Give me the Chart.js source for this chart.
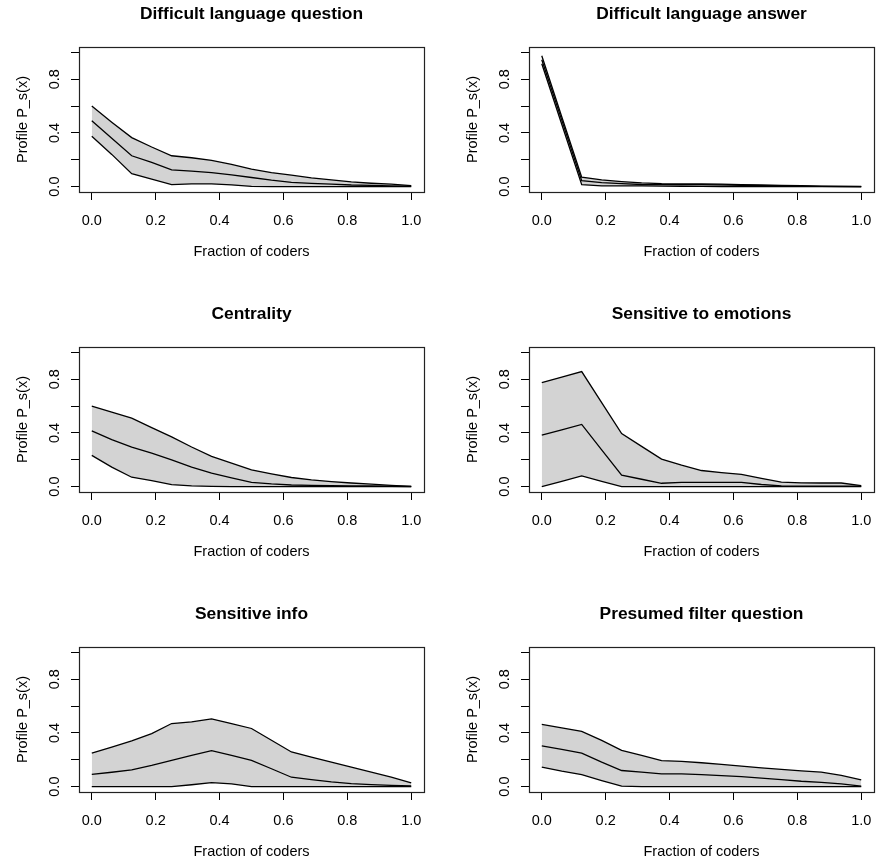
<!DOCTYPE html>
<html>
<head>
<meta charset="utf-8">
<script src="https://cdn.jsdelivr.net/npm/chart.js@4.4.1/dist/chart.umd.min.js"></script>
<style>
  body { margin: 0; width: 879px; height: 867px; overflow: hidden; background: #fff; position: relative; }
  .panel { position: absolute; width: 450px; height: 300px; }
</style>
</head>
<body>
<div class="panel" style="left:0;top:0"><canvas id="c0" width="450" height="300"></canvas></div>
<div class="panel" style="left:450px;top:0"><canvas id="c1" width="450" height="300"></canvas></div>
<div class="panel" style="left:0;top:300px"><canvas id="c2" width="450" height="300"></canvas></div>
<div class="panel" style="left:450px;top:300px"><canvas id="c3" width="450" height="300"></canvas></div>
<div class="panel" style="left:0;top:600px"><canvas id="c4" width="450" height="300"></canvas></div>
<div class="panel" style="left:450px;top:600px"><canvas id="c5" width="450" height="300"></canvas></div>
<script>
// fraction of coders (x positions)
var fractions = [0, 0.0625, 0.125, 0.1875, 0.25, 0.3125, 0.375, 0.4375, 0.5,
  0.5625, 0.625, 0.6875, 0.75, 0.8125, 0.875, 0.9375, 1];

var titles = ['Difficult language question', 'Difficult language answer', 'Centrality',
  'Sensitive to emotions', 'Sensitive info', 'Presumed filter question'];

var xTicks = [0, 0.2, 0.4, 0.6, 0.8, 1];
var xTickLabels = ['0.0', '0.2', '0.4', '0.6', '0.8', '1.0'];
var yTicks = [0, 0.2, 0.4, 0.6, 0.8, 1];
var yTickLabels = ['0.0', '', '0.4', '', '0.8', ''];

// Difficult language question
var dlqUpper = [0.60, 0.48, 0.365, 0.295, 0.23, 0.215, 0.195, 0.165, 0.13, 0.105, 0.085, 0.065, 0.05, 0.035, 0.025, 0.018, 0.008];
var dlqMid = [0.49, 0.36, 0.23, 0.18, 0.125, 0.115, 0.105, 0.088, 0.068, 0.048, 0.032, 0.024, 0.018, 0.012, 0.01, 0.006, 0.004];
var dlqLower = [0.375, 0.24, 0.097, 0.055, 0.015, 0.02, 0.02, 0.013, 0.002, 0, 0, 0, 0, 0, 0, 0, 0];

// Difficult language answer
var dlaUpper = [0.975, 0.52, 0.07, 0.05, 0.038, 0.028, 0.022, 0.02, 0.02, 0.018, 0.014, 0.012, 0.01, 0.008, 0.004, 0.002, 0.001];
var dlaMid = [0.945, 0.495, 0.045, 0.03, 0.022, 0.016, 0.015, 0.015, 0.015, 0.013, 0.01, 0.008, 0.006, 0.004, 0.002, 0.001, 0];
var dlaLower = [0.915, 0.465, 0.015, 0.006, 0.005, 0.005, 0.004, 0.003, 0.002, 0.001, 0, 0, 0, 0, 0, 0, 0];

// Centrality
var cenUpper = [0.60, 0.555, 0.51, 0.44, 0.37, 0.295, 0.225, 0.175, 0.125, 0.095, 0.068, 0.05, 0.038, 0.027, 0.018, 0.01, 0.002];
var cenMid = [0.415, 0.35, 0.295, 0.25, 0.20, 0.145, 0.10, 0.065, 0.032, 0.02, 0.012, 0.01, 0.008, 0.006, 0.005, 0.003, 0.001];
var cenLower = [0.233, 0.145, 0.07, 0.045, 0.015, 0.005, 0.002, 0, 0, 0, 0, 0, 0, 0, 0, 0, 0];

// Sensitive to emotions
var emoUpper = [0.775, 0.816, 0.857, 0.626, 0.395, 0.30, 0.205, 0.16, 0.12, 0.105, 0.092, 0.062, 0.033, 0.028, 0.027, 0.027, 0.007];
var emoMid = [0.383, 0.423, 0.463, 0.273, 0.085, 0.055, 0.025, 0.032, 0.032, 0.032, 0.032, 0.016, 0.005, 0.004, 0.003, 0.003, 0.003];
var emoLower = [0, 0.04, 0.08, 0.04, 0, 0, 0, 0, 0, 0, 0, 0, 0, 0, 0, 0, 0];

// Sensitive info
var infUpper = [0.25, 0.295, 0.34, 0.395, 0.47, 0.483, 0.505, 0.47, 0.433, 0.345, 0.258, 0.22, 0.183, 0.145, 0.108, 0.07, 0.028];
var infMid = [0.092, 0.107, 0.125, 0.158, 0.195, 0.232, 0.268, 0.232, 0.195, 0.133, 0.07, 0.052, 0.035, 0.022, 0.015, 0.01, 0.005];
var infLower = [0, 0, 0, 0, 0, 0.014, 0.03, 0.02, 0, 0, 0, 0, 0, 0, 0, 0, 0];

// Presumed filter question
var filUpper = [0.463, 0.437, 0.412, 0.345, 0.27, 0.232, 0.193, 0.188, 0.178, 0.165, 0.153, 0.14, 0.128, 0.118, 0.108, 0.083, 0.05];
var filMid = [0.303, 0.277, 0.25, 0.183, 0.12, 0.108, 0.095, 0.095, 0.09, 0.082, 0.075, 0.063, 0.052, 0.04, 0.032, 0.02, 0.003];
var filLower = [0.145, 0.115, 0.09, 0.045, 0.003, 0, 0, 0, 0, 0, 0, 0, 0, 0, 0, 0, 0];

var panels = [
  [dlqUpper, dlqMid, dlqLower],
  [dlaUpper, dlaMid, dlaLower],
  [cenUpper, cenMid, cenLower],
  [emoUpper, emoMid, emoLower],
  [infUpper, infMid, infLower],
  [filUpper, filMid, filLower]
];

Chart.defaults.color = '#000';
Chart.defaults.font.family = '"Liberation Sans", Arial, sans-serif';

var axisFont = { size: 14.5 };

// box around the plot region, like R's box()
var boxPlugin = {
  id: 'box',
  afterDraw: function(chart) {
    var a = chart.chartArea;
    var ctx = chart.ctx;
    ctx.save();
    ctx.strokeStyle = '#222';
    ctx.lineWidth = 1.2;
    ctx.strokeRect(Math.round(a.left) + 0.5, Math.round(a.top) + 0.5,
      Math.round(a.right - a.left), Math.round(a.bottom - a.top));
    ctx.restore();
  }
};

function points(arr) {
  return fractions.map(function(x, i) { return { x: x, y: arr[i] }; });
}

panels.forEach(function(series, idx) {
  var ctx = document.getElementById('c' + idx).getContext('2d');
  new Chart(ctx, {
    type: 'line',
    data: {
      datasets: [
        { data: points(series[0]), borderColor: '#000', borderWidth: 1.3, pointRadius: 0,
          fill: '+2', backgroundColor: '#d3d3d3' },
        { data: points(series[1]), borderColor: '#000', borderWidth: 1.3, pointRadius: 0, fill: false },
        { data: points(series[2]), borderColor: '#000', borderWidth: 1.3, pointRadius: 0, fill: false }
      ]
    },
    options: {
      responsive: false,
      animation: false,
      layout: { padding: { left: 0, top: 0, right: 26, bottom: 0 } },
      plugins: {
        legend: { display: false },
        tooltip: { enabled: false },
        filler: { drawTime: 'beforeDatasetsDraw' },
        title: {
          display: true,
          text: titles[idx],
          fullSize: false,
          font: { size: 17.4, weight: 'bold' },
          padding: { top: 3.6, bottom: 22.5 }
        }
      },
      scales: {
        x: {
          type: 'linear',
          min: -0.04,
          max: 1.04,
          afterBuildTicks: function(s) { s.ticks = xTicks.map(function(v) { return { value: v }; }); },
          afterFit: function(s) { s.height = 108; },
          ticks: {
            font: axisFont, padding: 11.8, maxRotation: 0, autoSkip: false,
            callback: function(v, i) { return xTickLabels[i]; }
          },
          grid: { drawOnChartArea: false, tickLength: 8, color: '#000' },
          border: { display: false },
          title: { display: true, text: 'Fraction of coders', font: axisFont, padding: { top: 0, bottom: 39.6 } }
        },
        y: {
          min: -0.04,
          max: 1.04,
          afterBuildTicks: function(s) { s.ticks = yTicks.map(function(v) { return { value: v }; }); },
          afterFit: function(s) { s.width = 79; },
          ticks: {
            font: axisFont, padding: 5.9, minRotation: 90, maxRotation: 90, crossAlign: 'center',
            autoSkip: false,
            callback: function(v, i) { return yTickLabels[i]; }
          },
          grid: { drawOnChartArea: false, tickLength: 8, color: '#000' },
          border: { display: false },
          title: { display: true, text: 'Profile P_s(x)', font: axisFont, padding: { top: 13.8, bottom: 0 } }
        }
      }
    },
    plugins: [boxPlugin]
  });
});
</script>
</body>
</html>
